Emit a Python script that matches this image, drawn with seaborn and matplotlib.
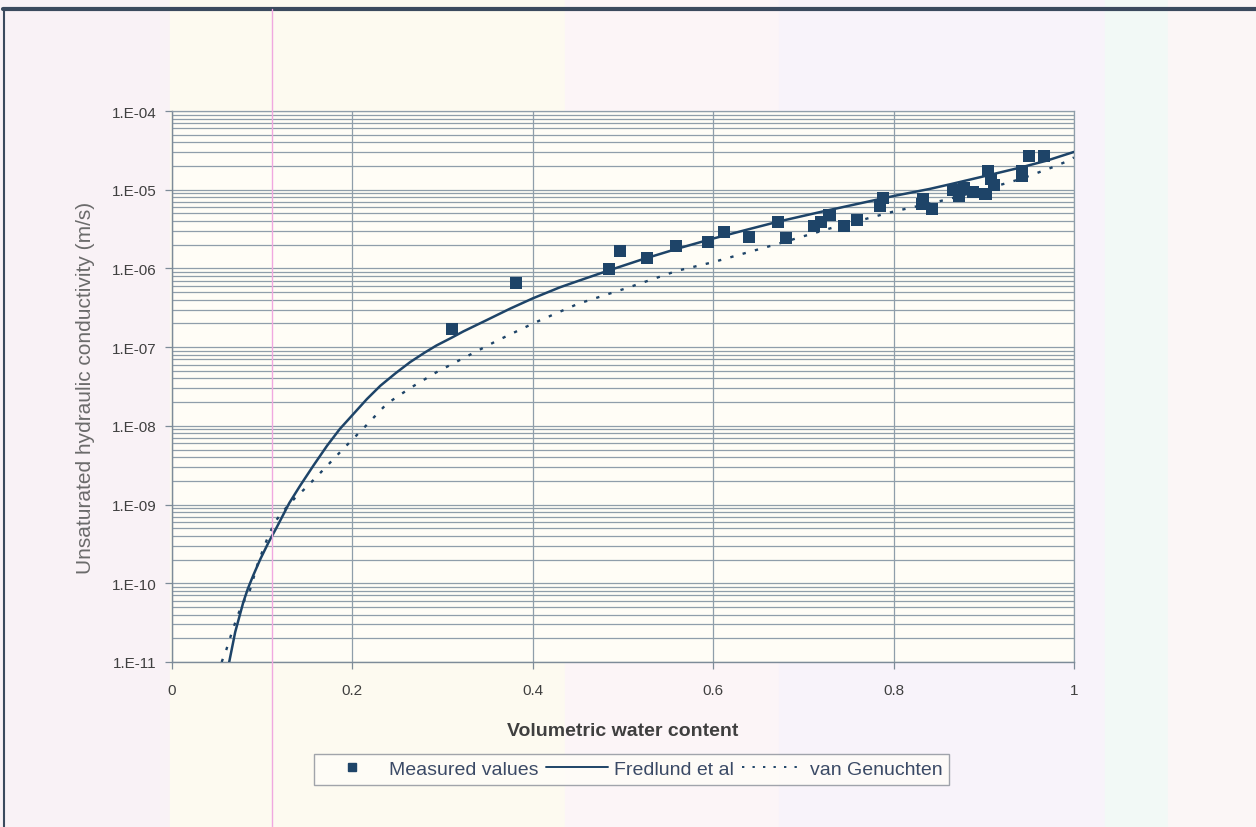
import numpy as np
import pandas as pd
import matplotlib
matplotlib.use("Agg")
import matplotlib.pyplot as plt
from matplotlib.lines import Line2D
from matplotlib.ticker import LogLocator, FixedLocator, NullFormatter
import seaborn as sns

# Measured values
meas_x = [0.310, 0.381, 0.484, 0.497, 0.527, 0.559, 0.594, 0.612, 0.640, 0.672,
          0.681, 0.712, 0.720, 0.729, 0.745, 0.760, 0.785, 0.788, 0.833, 0.832,
          0.843, 0.866, 0.873, 0.878, 0.888, 0.902, 0.905, 0.908, 0.911, 0.942,
          0.942, 0.950, 0.967]
meas_y = [1.70e-7, 6.5e-7, 9.8e-7, 1.68e-6, 1.36e-6, 1.91e-6, 2.17e-6, 2.88e-6, 2.48e-6, 3.93e-6,
          2.42e-6, 3.43e-6, 3.93e-6, 4.78e-6, 3.43e-6, 4.16e-6, 6.27e-6, 7.85e-6, 7.62e-6, 6.58e-6,
          5.77e-6, 1.00e-5, 8.39e-6, 1.04e-5, 9.44e-6, 8.83e-6, 1.75e-5, 1.37e-5, 1.15e-5, 1.75e-5,
          1.51e-5, 2.70e-5, 2.70e-5]

# Fredlund et al curve (x, log10 K)
fred_x = [0.063, 0.070, 0.079, 0.084, 0.090, 0.098, 0.107, 0.116, 0.130, 0.142,
          0.157, 0.172, 0.186, 0.201, 0.216, 0.231, 0.248, 0.264, 0.280, 0.293,
          0.310, 0.323, 0.350, 0.375, 0.400, 0.430, 0.450, 0.483, 0.520, 0.560,
          0.600, 0.640, 0.674, 0.720, 0.760, 0.800, 0.840, 0.863, 0.900, 0.940,
          0.970, 1.000]
fred_logk = [-11.02, -10.62, -10.24, -10.07, -9.90, -9.69, -9.48, -9.29, -8.98, -8.76,
             -8.50, -8.25, -8.04, -7.85, -7.66, -7.49, -7.33, -7.19, -7.07, -6.98,
             -6.88, -6.80, -6.65, -6.51, -6.38, -6.24, -6.16, -6.03, -5.89, -5.75,
             -5.62, -5.50, -5.40, -5.28, -5.18, -5.08, -4.99, -4.93, -4.83, -4.72,
             -4.63, -4.52]

# van Genuchten curve (x, log10 K)
vg_x = [0.055, 0.060, 0.067, 0.073, 0.080, 0.086, 0.095, 0.105, 0.114, 0.125,
        0.136, 0.148, 0.160, 0.175, 0.190, 0.214, 0.238, 0.264, 0.293, 0.323,
        0.360, 0.402, 0.450, 0.504, 0.560, 0.600, 0.671, 0.730, 0.799, 0.857,
        0.900, 0.942, 0.975, 0.990, 1.000]
vg_logk = [-11.00, -10.85, -10.60, -10.40, -10.22, -10.10, -9.75, -9.45, -9.22, -9.06,
           -8.92, -8.79, -8.65, -8.47, -8.29, -8.01, -7.72, -7.52, -7.32, -7.14,
           -6.92, -6.69, -6.45, -6.25, -6.03, -5.92, -5.69, -5.49, -5.28, -5.13,
           -5.00, -4.86, -4.72, -4.65, -4.59]

x_ticks = [0, 0.2, 0.4, 0.6, 0.8, 1]
x_tick_labels = ["0", "0.2", "0.4", "0.6", "0.8", "1"]
y_ticks = [1e-11, 1e-10, 1e-9, 1e-8, 1e-7, 1e-6, 1e-5, 1e-4]
y_tick_labels = ["1.E-11", "1.E-10", "1.E-09", "1.E-08", "1.E-07", "1.E-06", "1.E-05", "1.E-04"]

sns.set_style("white")
plt.rcParams['font.family'] = ['Liberation Sans', 'DejaVu Sans']

navy = "#1e4468"
grid_c = "#8f9eaa"

fig = plt.figure(figsize=(12.56, 8.28), dpi=100, facecolor="#fbf6f6")
# pale background bands (scan look)
bands = [(0.0, 0.135, "#f9f2f6"), (0.135, 0.45, "#fdfaf0"), (0.45, 0.62, "#fcf5f7"),
         (0.62, 0.88, "#f8f3fa"), (0.88, 0.93, "#f2f9f6"), (0.93, 1.0, "#fbf6f6")]
for x0, x1, c in bands:
    fig.patches.append(plt.Rectangle((x0, 0), x1 - x0, 1, transform=fig.transFigure,
                                     color=c, zorder=-10))
# outer frame (top and left edges)
fig.add_artist(Line2D([0.002, 1.0], [0.988, 0.988], transform=fig.transFigure,
                      color="#3b4a5e", lw=3))
fig.add_artist(Line2D([0.003, 0.003], [0.0, 0.988], transform=fig.transFigure,
                      color="#3b4a5e", lw=1.5))
fig.add_artist(Line2D([0.2166, 0.2166], [0.0, 0.988], transform=fig.transFigure,
                      color="#f0a8e0", lw=1))

ax = fig.add_axes([0.137, 0.1993, 0.718, 0.6654])
ax.set_facecolor("#fffdf6")

df_m = pd.DataFrame({"x": meas_x, "y": meas_y})
df_f = pd.DataFrame({"x": fred_x, "y": np.power(10.0, fred_logk)})
df_v = pd.DataFrame({"x": vg_x, "y": np.power(10.0, vg_logk)})

ax.set_yscale("log")
sns.lineplot(data=df_f, x="x", y="y", ax=ax, color=navy, lw=1.8, sort=False,
             estimator=None, zorder=3)
sns.lineplot(data=df_v, x="x", y="y", ax=ax, color=navy, lw=1.7, sort=False,
             estimator=None, zorder=3, linestyle=(0, (1.4, 4.0)))
sns.scatterplot(data=df_m, x="x", y="y", ax=ax, marker="s", s=75, color=navy,
                edgecolor="none", zorder=4)

ax.set_xlim(0, 1)
ax.set_ylim(1e-11, 1e-4)
ax.xaxis.set_major_locator(FixedLocator(x_ticks))
ax.set_xticklabels(x_tick_labels)
ax.yaxis.set_major_locator(FixedLocator(y_ticks))
ax.set_yticklabels(y_tick_labels)
ax.yaxis.set_minor_locator(LogLocator(base=10, subs=np.arange(2, 10), numticks=100))
ax.yaxis.set_minor_formatter(NullFormatter())

ax.grid(True, which="major", axis="both", color=grid_c, lw=0.9)
ax.grid(True, which="minor", axis="y", color=grid_c, lw=0.9)
ax.set_axisbelow(True)
for s in ["top", "right"]:
    ax.spines[s].set_color(grid_c)
    ax.spines[s].set_linewidth(0.9)
for s in ["left", "bottom"]:
    ax.spines[s].set_color("#7d8b98")
    ax.spines[s].set_linewidth(1.0)

ax.tick_params(axis="both", which="major", direction="out", length=5, width=0.9,
               color="#7d8b98", labelsize=11, labelcolor="#404040", pad=6, left=True, bottom=True)
ax.tick_params(axis="y", which="minor", left=False)
ax.tick_params(axis="x", pad=10)

ax.set_xlabel("Volumetric water content", fontsize=14, fontweight="bold",
              color="#3f3f3f", labelpad=18)
ax.set_ylabel("Unsaturated hydraulic conductivity (m/s)", fontsize=15,
              color="#6b6b6b", labelpad=12)

handles = [
    Line2D([], [], marker="s", color=navy, linestyle="none", markersize=6),
    Line2D([], [], color=navy, lw=1.4),
    Line2D([], [], color=navy, lw=1.4, linestyle=(0, (1.2, 4.2))),
]
labels = ["Measured values", "Fredlund et al", "van Genuchten"]
leg = fig.legend(handles, labels, loc="center", bbox_to_anchor=(0.503, 0.0699),
                 ncol=3, frameon=True, fontsize=14, handlelength=3.2, columnspacing=0.4,
                 handletextpad=0.3, borderpad=0.35, fancybox=False,
                 labelcolor="#3b4a66")
leg.get_frame().set_edgecolor("#8a8f98")
leg.get_frame().set_linewidth(1.0)
leg.get_frame().set_facecolor("#fffdf8")

fig.savefig("out.png", dpi=100, facecolor=fig.get_facecolor())
